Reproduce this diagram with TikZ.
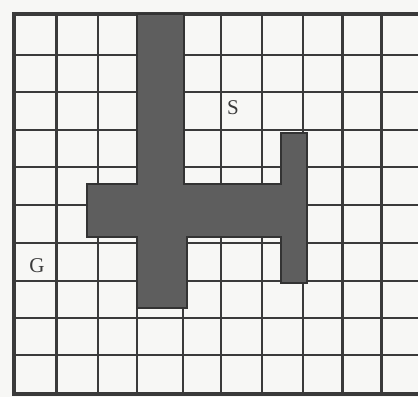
\documentclass[tikz,border=0pt]{standalone}
\usepackage{fontspec}
\setmainfont{Liberation Serif}
\definecolor{paper}{HTML}{F7F7F5}
\definecolor{ink}{HTML}{3A3A3A}
\definecolor{shade}{HTML}{5E5E5E}
\begin{document}
\begin{tikzpicture}[x=1pt,y=-1pt,
  gridline/.style={ink,line width=1.8pt},
  heavyline/.style={ink,line width=3pt},
  borderline/.style={ink,line width=4.5pt},
  obstacle/.style={fill=shade,draw=black!80,line width=1.2pt},
  lbl/.style={font=\fontsize{21}{21}\selectfont,text=ink,inner sep=0pt}]
\useasboundingbox (0,0) rectangle (418,397);
\fill[paper] (0,0) rectangle (418,397);
% horizontal grid lines
\foreach \y in {55,92,130,167,205,243,281,318,355}
  \draw[gridline] (14,\y) -- (418,\y);
% vertical grid lines
\foreach \x in {98,137,183,221,262,303}
  \draw[gridline] (\x,14) -- (\x,394);
\foreach \x in {56,342,381}
  \draw[heavyline] (\x,14) -- (\x,394);
% border
\draw[borderline] (418,14) -- (14,14) -- (14,394) -- (418,394);
% obstacle
\draw[obstacle] (137,14) -- (184,14) -- (184,184) -- (281,184) -- (281,133)
  -- (307,133) -- (307,283) -- (281,283) -- (281,237) -- (187,237)
  -- (187,308) -- (137,308) -- (137,237) -- (87,237) -- (87,184)
  -- (137,184) -- cycle;
\node[lbl] (S) at (233,108) {S};
\node[lbl] (G) at (37,266) {G};
\end{tikzpicture}
\end{document}
